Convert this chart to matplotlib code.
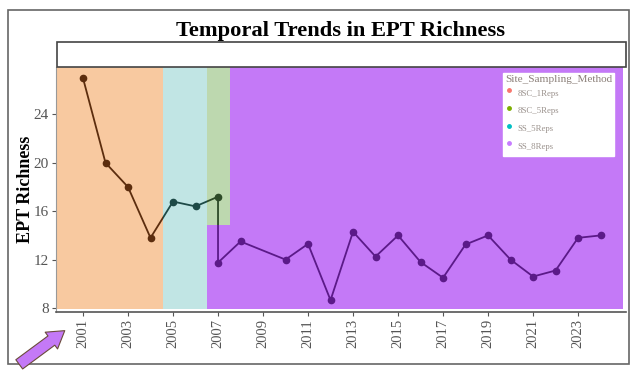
import matplotlib

matplotlib.use("Agg")
import matplotlib.pyplot as plt
from matplotlib.lines import Line2D
from matplotlib.patches import Rectangle

plt.rcParams["font.family"] = ["Liberation Serif", "DejaVu Serif"]

# EPT richness by year (2007 sampled twice, 2009 missing)
years = [2001, 2002, 2003, 2004, 2005, 2006, 2007, 2007, 2008, 2010, 2011, 2012,
         2013, 2014, 2015, 2016, 2017, 2018, 2019, 2020, 2021, 2022, 2023, 2024]
richness = [27.0, 20.0, 18.0, 13.8, 16.8, 16.4, 17.2, 11.75, 13.5, 12.0, 13.3, 8.65,
            14.3, 12.25, 14.0, 11.8, 10.5, 13.25, 14.0, 12.0, 10.6, 11.1, 13.8, 14.0]

# background blocks per sampling method: (xmin, xmax, ymin, ymax)
methods = ["8SC_1Reps", "8SC_5Reps", "SS_5Reps", "SS_8Reps"]
method_dots = ["#F8766D", "#7CAE00", "#00BFC4", "#C77CFF"]
bg_blocks = [
    ((1999.85, 2004.55, 7.92, 27.92), "#F8C9A0", "#5C2D0E"),
    ((2004.55, 2006.5, 7.92, 27.92), "#C1E5E4", "#1E4A47"),
    ((2006.5, 2007.53, 14.85, 27.92), "#BDD8AF", "#2D4A28"),
    ((2006.5, 2007.53, 7.92, 14.85), "#C479F7", "#5B1A88"),
    ((2007.53, 2025.0, 7.92, 27.92), "#C479F7", "#5B1A88"),
]

fig = plt.figure(figsize=(6.4, 3.81), dpi=100)
W, H = 640, 381

# outer frame
fig.patches.append(Rectangle((8 / W, 1 - 364 / H), 621 / W, 354 / H, transform=fig.transFigure,
                             fill=False, edgecolor="#666666", linewidth=1.2, zorder=0))
# empty facet strip
fig.patches.append(Rectangle((57 / W, 1 - 67 / H), 569 / W, 25 / H, transform=fig.transFigure,
                             facecolor="white", edgecolor="#444444", linewidth=1.2, zorder=1))

ax = fig.add_axes([56 / W, 1 - 312 / H, 570 / W, 245 / H])
ax.set_facecolor("white")
ax.set_xlim(1999.8, 2025.13)
ax.set_ylim(7.67, 27.92)

for (x0, x1, y0, y1), fc, lc in bg_blocks:
    rect = Rectangle((x0, y0), x1 - x0, y1 - y0, facecolor=fc, edgecolor="none", zorder=1)
    ax.add_patch(rect)
    line, = ax.plot(years, richness, color=lc, linewidth=1.3, marker="o", markersize=4.5, zorder=3)
    line.set_clip_path(rect)

ax.set_xticks(list(range(2001, 2024, 2)))
ax.set_yticks([8, 12, 16, 20, 24])
ax.tick_params(axis="x", labelrotation=90, labelsize=10.5, colors="#555555", length=3, pad=2)
ax.tick_params(axis="y", labelsize=11, colors="#555555", length=3, pad=2)
for side in ("top", "right"):
    ax.spines[side].set_visible(False)
ax.spines["left"].set_color("#999999")
ax.spines["bottom"].set_color("#555555")
ax.spines["bottom"].set_linewidth(1.2)

ax.set_ylabel("EPT Richness", fontsize=13, fontweight="bold")
ax.yaxis.set_label_coords(-0.039, 0.5)

handles = [Line2D([], [], linestyle="none", marker="o", markersize=2.5, color=c) for c in method_dots]
leg = ax.legend(handles, methods, title="Site_Sampling_Method", loc="upper right",
                bbox_to_anchor=(0.979, 0.9755), borderaxespad=0, fontsize=6.3, title_fontsize=8.1,
                labelspacing=0.08, handleheight=2.62, handlelength=0.8, handletextpad=0.6,
                borderpad=0.2, frameon=True, fancybox=False, framealpha=1, edgecolor="white")
leg.get_title().set_color("#8A7F78")
for t in leg.get_texts():
    t.set_color("#9A918C")
leg._legend_box.align = "left"

fig.text(341 / W, 1 - 31 / H, "Temporal Trends in EPT Richness", ha="center", va="center",
         fontsize=16.2, fontweight="bold")

# pointer arrow in the lower left corner
fig.add_artist(matplotlib.patches.FancyArrowPatch(
    (17, H - 366), (67, H - 329), transform=None,
    arrowstyle="simple,head_length=0.8,head_width=1.0,tail_width=0.55",
    mutation_scale=15, facecolor="#C479F7", edgecolor="#6B4B3B", linewidth=0.8,
    clip_on=False))

fig.savefig("out.png", dpi=100)
